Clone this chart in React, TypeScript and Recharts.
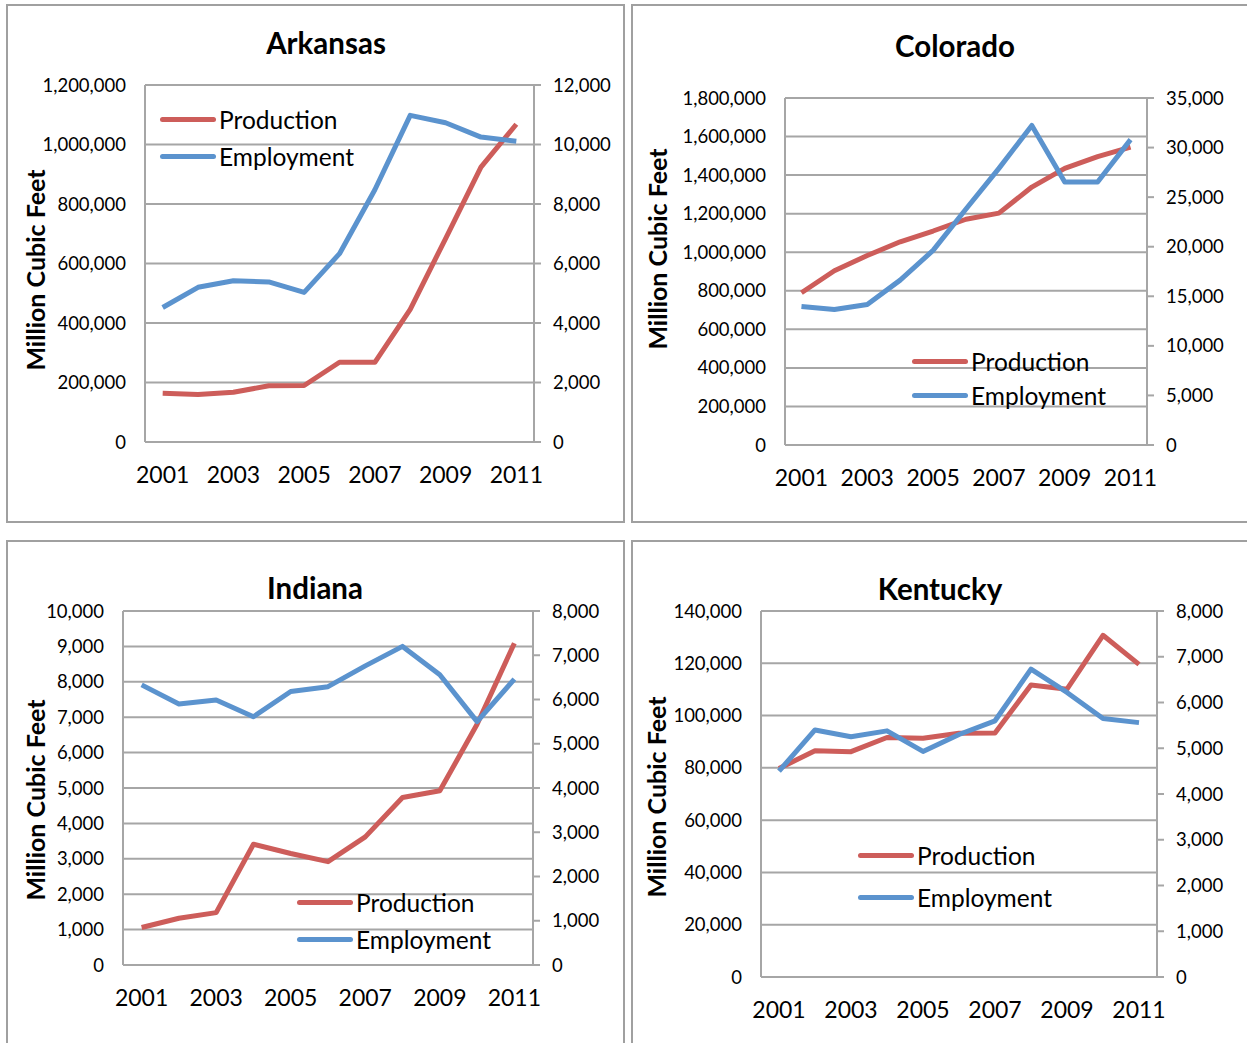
import React from "react"
import { LineChart, Line, XAxis, YAxis, CartesianGrid } from "recharts"

const YEARS = ["2001", "2002", "2003", "2004", "2005", "2006", "2007", "2008", "2009", "2010", "2011"]

const ARKANSAS_PRODUCTION = [164000, 160000, 167000, 189000, 190000, 268000, 268000, 446000, 684000, 924000, 1068000]
const ARKANSAS_EMPLOYMENT = [4520, 5200, 5420, 5380, 5030, 6330, 8480, 10980, 10730, 10250, 10110]

const COLORADO_PRODUCTION = [790000, 904000, 983000, 1054000, 1110000, 1171000, 1203000, 1338000, 1435000, 1496000, 1545000]
const COLORADO_EMPLOYMENT = [13970, 13660, 14170, 16630, 19630, 23800, 27900, 32230, 26530, 26530, 30800]

const INDIANA_PRODUCTION = [1060, 1320, 1480, 3410, 3150, 2920, 3620, 4730, 4920, 6800, 9090]
const INDIANA_EMPLOYMENT = [6330, 5900, 5990, 5610, 6180, 6290, 6760, 7200, 6560, 5500, 6460]

const KENTUCKY_PRODUCTION = [79800, 86500, 86200, 91600, 91300, 93200, 93300, 111700, 110100, 130700, 119600]
const KENTUCKY_EMPLOYMENT = [4500, 5400, 5250, 5380, 4930, 5300, 5600, 6730, 6220, 5650, 5560]

const ARKANSAS_LEFT_TICKS = [0, 200000, 400000, 600000, 800000, 1000000, 1200000]
const ARKANSAS_RIGHT_TICKS = [0, 2000, 4000, 6000, 8000, 10000, 12000]
const COLORADO_LEFT_TICKS = [0, 200000, 400000, 600000, 800000, 1000000, 1200000, 1400000, 1600000, 1800000]
const COLORADO_RIGHT_TICKS = [0, 5000, 10000, 15000, 20000, 25000, 30000, 35000]
const INDIANA_LEFT_TICKS = [0, 1000, 2000, 3000, 4000, 5000, 6000, 7000, 8000, 9000, 10000]
const INDIANA_RIGHT_TICKS = [0, 1000, 2000, 3000, 4000, 5000, 6000, 7000, 8000]
const KENTUCKY_LEFT_TICKS = [0, 20000, 40000, 60000, 80000, 100000, 120000, 140000]
const KENTUCKY_RIGHT_TICKS = [0, 1000, 2000, 3000, 4000, 5000, 6000, 7000, 8000]

const RED = "#CD5D5A"
const BLUE = "#5B93CE"
const GRID = "#A6A6A6"
const FONT = "Lato, 'Open Sans', sans-serif"

const fmt = (v: number) => v.toLocaleString("en-US")

type Box = { x: number; y: number; w: number; h: number }
type Plot = { left: number; right: number; top: number; bottom: number }

interface PanelProps {
  title: string
  titleX: number
  titleY: number
  box: Box
  plot: Plot
  production: number[]
  employment: number[]
  leftTicks: number[]
  rightTicks: number[]
  legendX: number
  legendY: number
  legendGap: number
  labelX: number
  labelY: number
}

const SERIES = [
  { key: "production", name: "Production", color: RED },
  { key: "employment", name: "Employment", color: BLUE },
]

const Panel: React.FC<PanelProps> = (p) => {
  const { box, plot } = p
  const data = YEARS.map((year, i) => ({ year, production: p.production[i], employment: p.employment[i] }))
  const W = box.w
  const H = box.h
  const margin = {
    left: plot.left - box.x - 1,
    right: box.x + W - plot.right - 1,
    top: plot.top - box.y,
    bottom: box.y + H - plot.bottom - 1,
  }
  // half a category band on each side, so years sit in the middle of their slot
  const pad = (plot.right - plot.left) / YEARS.length / 2
  return (
    <>
      <div
        style={{
          position: "absolute",
          left: box.x,
          top: box.y,
          width: W - 4,
          height: H - 4,
          border: "2px solid #A0A0A0",
        }}
      />
      <div style={{ position: "absolute", left: box.x, top: box.y }}>
        <LineChart width={W} height={H} data={data} margin={margin}>
          <CartesianGrid vertical={false} stroke={GRID} strokeWidth={2} horizontalValues={p.leftTicks} yAxisId="left" />
          <XAxis
            dataKey="year"
            interval={1}
            height={1}
            padding={{ left: pad, right: pad }}
            tickLine={false}
            tickSize={0}
            tickMargin={25}
            axisLine={{ stroke: GRID, strokeWidth: 2 }}
            tick={{ fill: "#000", fontSize: 23, fontFamily: FONT }}
          />
          <YAxis
            yAxisId="left"
            orientation="left"
            width={1}
            domain={[0, p.leftTicks[p.leftTicks.length - 1]]}
            ticks={p.leftTicks}
            interval={0}
            tickFormatter={fmt}
            tickLine={false}
            tickSize={0}
            tickMargin={19}
            axisLine={{ stroke: GRID, strokeWidth: 2 }}
            tick={{ fill: "#000", fontSize: 18.5, fontFamily: FONT }}
          />
          <YAxis
            yAxisId="right"
            orientation="right"
            width={1}
            domain={[0, p.rightTicks[p.rightTicks.length - 1]]}
            ticks={p.rightTicks}
            interval={0}
            tickFormatter={fmt}
            tickLine={{ stroke: GRID, strokeWidth: 2 }}
            tickSize={7}
            tickMargin={12}
            axisLine={{ stroke: GRID, strokeWidth: 2 }}
            tick={{ fill: "#000", fontSize: 18.5, fontFamily: FONT }}
          />
          <Line
            yAxisId="left"
            dataKey="production"
            name="Production"
            stroke={RED}
            strokeWidth={5}
            dot={false}
            strokeLinejoin="round"
            isAnimationActive={false}
          />
          <Line
            yAxisId="right"
            dataKey="employment"
            name="Employment"
            stroke={BLUE}
            strokeWidth={5}
            dot={false}
            strokeLinejoin="round"
            isAnimationActive={false}
          />
        </LineChart>
      </div>
      <div
        style={{
          position: "absolute",
          left: p.titleX - 150,
          top: p.titleY - 19,
          width: 300,
          textAlign: "center",
          fontFamily: FONT,
          fontWeight: 700,
          fontSize: 29.5,
          lineHeight: "38px",
        }}
      >
        {p.title}
      </div>
      <div
        style={{
          position: "absolute",
          left: p.labelX - 150,
          top: p.labelY - 17,
          width: 300,
          textAlign: "center",
          fontFamily: FONT,
          fontWeight: 700,
          fontSize: 25,
          lineHeight: "34px",
          transform: "rotate(-90deg)",
        }}
      >
        Million Cubic Feet
      </div>
      <div style={{ position: "absolute", left: p.legendX, top: p.legendY, fontFamily: FONT, fontSize: 24.5 }}>
        {SERIES.map((s) => (
          <div key={s.key} style={{ display: "flex", alignItems: "center", height: p.legendGap }}>
            <span
              style={{ display: "inline-block", width: 56, height: 5, borderRadius: 3, background: s.color, marginRight: 3 }}
            />
            <span>{s.name}</span>
          </div>
        ))}
      </div>
    </>
  )
}

export default function App() {
  return (
    <div style={{ position: "absolute", left: 0, top: 0, width: 1247, height: 1043, background: "#fff", overflow: "hidden" }}>
      <Panel
        title="Arkansas"
        titleX={326}
        titleY={43}
        box={{ x: 6, y: 4, w: 619, h: 519 }}
        plot={{ left: 145, right: 534, top: 85, bottom: 442 }}
        production={ARKANSAS_PRODUCTION}
        employment={ARKANSAS_EMPLOYMENT}
        leftTicks={ARKANSAS_LEFT_TICKS}
        rightTicks={ARKANSAS_RIGHT_TICKS}
        legendX={160}
        legendY={101}
        legendGap={37}
        labelX={35}
        labelY={270}
      />
      <Panel
        title="Colorado"
        titleX={955}
        titleY={46}
        box={{ x: 631, y: 4, w: 630, h: 519 }}
        plot={{ left: 785, right: 1147, top: 98, bottom: 445 }}
        production={COLORADO_PRODUCTION}
        employment={COLORADO_EMPLOYMENT}
        leftTicks={COLORADO_LEFT_TICKS}
        rightTicks={COLORADO_RIGHT_TICKS}
        legendX={912}
        legendY={344}
        legendGap={34}
        labelX={657}
        labelY={249}
      />
      <Panel
        title="Indiana"
        titleX={315}
        titleY={588}
        box={{ x: 6, y: 540, w: 619, h: 520 }}
        plot={{ left: 123, right: 533, top: 611, bottom: 965 }}
        production={INDIANA_PRODUCTION}
        employment={INDIANA_EMPLOYMENT}
        leftTicks={INDIANA_LEFT_TICKS}
        rightTicks={INDIANA_RIGHT_TICKS}
        legendX={297}
        legendY={884}
        legendGap={37}
        labelX={35}
        labelY={800}
      />
      <Panel
        title="Kentucky"
        titleX={940}
        titleY={589}
        box={{ x: 631, y: 540, w: 630, h: 520 }}
        plot={{ left: 761, right: 1157, top: 611, bottom: 977 }}
        production={KENTUCKY_PRODUCTION}
        employment={KENTUCKY_EMPLOYMENT}
        leftTicks={KENTUCKY_LEFT_TICKS}
        rightTicks={KENTUCKY_RIGHT_TICKS}
        legendX={858}
        legendY={834}
        legendGap={42}
        labelX={656}
        labelY={797}
      />
    </div>
  )
}
